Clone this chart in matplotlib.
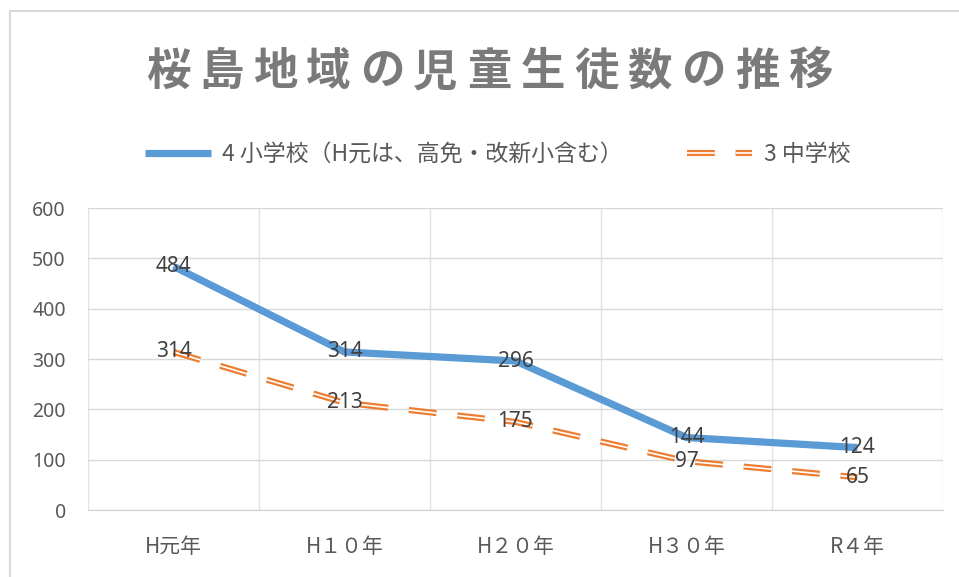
#!/usr/bin/env python3
"""
桜島地域の児童生徒数の推移 - line chart
"""
import matplotlib
matplotlib.use("Agg")
import matplotlib.pyplot as plt
from matplotlib.lines import Line2D
from matplotlib.patches import Rectangle

plt.rcParams['font.family'] = ['Noto Sans CJK JP', 'DejaVu Sans']
plt.rcParams['lines.scale_dashes'] = False

# Data
TITLE = "桜島地域の児童生徒数の推移"
years = ["H元年", "H１０年", "H２０年", "H３０年", "R４年"]
elementary = [484, 314, 296, 144, 124]
junior_high = [314, 213, 175, 97, 65]
elem_label = "4 小学校（H元は、高免・改新小含む）"
jh_label = "3 中学校"
y_ticks = [0, 100, 200, 300, 400, 500, 600]

BLUE = "#5B9BD5"
ORANGE = "#ED7D31"
GRAY = "#595959"
DASH = (20, 15)

fig = plt.figure(figsize=(9.59, 5.77), dpi=100)
ax = fig.add_axes([0.0918, 0.1161, 0.8915, 0.5234])

x = list(range(len(years)))

# blue solid series
ax.plot(x, elementary, color=BLUE, lw=5.2, solid_capstyle='butt', zorder=3)

# orange compound (double) dashed series
outer, = ax.plot(x, junior_high, color=ORANGE, lw=4.4, dashes=DASH,
                 dash_capstyle='butt', zorder=3)
inner, = ax.plot(x, junior_high, color='white', lw=1.2, dashes=DASH,
                 dash_capstyle='butt', zorder=4)

# data labels
for xi, v in zip(x, elementary):
    ax.text(xi, v, str(v), ha='center', va='center', fontsize=15,
            color='#404040', family=['Noto Sans', 'DejaVu Sans'], zorder=5)
for xi, v in zip(x, junior_high):
    ax.text(xi, v, str(v), ha='center', va='center', fontsize=15,
            color='#404040', family=['Noto Sans', 'DejaVu Sans'], zorder=5)

ax.set_xlim(-0.5, len(years) - 0.5)
ax.set_ylim(0, 600)
ax.set_yticks(y_ticks)
ax.set_yticklabels([str(t) for t in y_ticks], fontsize=14, color=GRAY,
                   family=['Noto Sans', 'DejaVu Sans'])
ax.set_xticks(x)
ax.set_xticklabels(years, fontsize=15, color=GRAY)
ax.set_xticks([i - 0.5 for i in range(len(years) + 1)], minor=True)
ax.tick_params(axis='both', which='both', length=0)
ax.tick_params(axis='y', pad=16)
ax.tick_params(axis='x', pad=19)

ax.grid(True, axis='y', which='major', color='#D9D9D9', lw=1)
ax.grid(True, axis='x', which='minor', color='#E3E3E3', lw=1)
ax.set_axisbelow(True)
for side in ['top', 'right', 'left']:
    ax.spines[side].set_visible(False)
ax.spines['bottom'].set_color('#D0D0D0')

# title, slightly tracked
x0, x1 = 0.175, 0.845
n = len(TITLE)
for i, ch in enumerate(TITLE):
    fig.text(x0 + (x1 - x0) * i / (n - 1), 0.875, ch, ha='center', va='center',
             fontsize=32, fontweight='bold', color='#7A7A7A')

# legend
blue_h = Line2D([], [], color=BLUE, lw=5.2, solid_capstyle='butt')
leg = fig.legend([blue_h, (outer, inner)], [elem_label, jh_label],
                 loc='center', bbox_to_anchor=(0.519, 0.732), ncol=2,
                 frameon=False, fontsize=16.5, handlelength=2.85,
                 handletextpad=0.5, columnspacing=2.8, labelcolor=GRAY)

# chart border
fig.add_artist(Rectangle((0.0104, -0.5), 1.5, 0.5 + 0.981, transform=fig.transFigure,
                         fill=False, edgecolor='#D9D9D9', lw=1.5))

fig.savefig("out.png", dpi=100)
